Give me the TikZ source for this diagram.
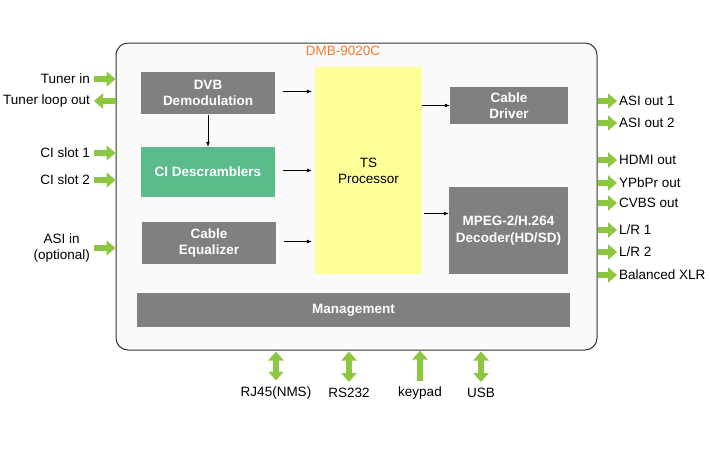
\documentclass[tikz,border=0pt]{standalone}
\usepackage{fontspec}
\setmainfont{Liberation Sans}
\usepackage{xcolor}
\usetikzlibrary{arrows.meta,positioning}
\definecolor{limegreen}{RGB}{141,198,63}
\definecolor{boxgray}{RGB}{128,128,128}
\definecolor{cigreen}{RGB}{92,187,138}
\definecolor{tsyellow}{RGB}{255,255,153}
\definecolor{tagorange}{RGB}{244,124,48}

\begin{document}
\begin{tikzpicture}
  [x=1pt,y=-1pt,every node/.style={font=\fontsize{13.5}{16}\selectfont},
   blk/.style={fill=boxgray,text=white,font=\bfseries\fontsize{13.5}{16.5}\selectfont,align=center,inner sep=0pt},
   lbl/.style={inner sep=2pt,align=center},
   thin/.style={-{Latex[length=5pt,width=4pt]},line width=0.7pt},
   gin/.style={limegreen,line width=6pt,-{Triangle[width=15pt,length=9pt]}},
   gboth/.style={limegreen,line width=6pt,{Triangle[width=15pt,length=9pt]}-{Triangle[width=15pt,length=9pt]}}]
  \useasboundingbox (0,0) rectangle (710,456);

  \node[draw=black!80,line width=1pt,fill=black!2,rounded corners=12pt,
        minimum width=481pt,minimum height=307pt] (box) at (356.5,196.5) {};
  \node[text=tagorange] (tag) at (343,51) {DMB-9020C};

  \node[blk,minimum width=134pt,minimum height=42pt] (dvb) at (208,93) {DVB\\Demodulation};
  \node[blk,fill=cigreen,minimum width=134pt,minimum height=50pt] (ci) at (208,172) {CI Descramblers};
  \node[blk,minimum width=134pt,minimum height=42pt] (eq) at (209,243) {Cable\\Equalizer};
  \node[fill=tsyellow,align=center,inner sep=0pt,minimum width=107pt,minimum height=207pt] (ts) at (368.5,170.5) {TS\\Processor};
  \node[blk,minimum width=118pt,minimum height=37pt] (drv) at (509,105.5) {Cable\\Driver};
  \node[blk,minimum width=119pt,minimum height=87pt] (dec) at (508.5,230.5) {MPEG-2/H.264\\Decoder(HD/SD)};
  \node[blk,minimum width=433pt,minimum height=34pt] (mgmt) at (353.5,310) {Management};

  % inner arrows
  \draw[thin,shorten <=1pt] (dvb.south) -- (dvb.south |- ci.north);
  \foreach \from in {dvb,ci,eq}
    \draw[thin,shorten <=8pt,shorten >=3pt] ([yshift=1.5pt]\from.east) -- ([yshift=1.5pt]\from.east -| ts.west);
  \draw[thin] (ts.east |- drv.west) -- (drv.west);
  \draw[thin,shorten <=2pt] ([yshift=17pt]ts.east |- dec.west) -- ([yshift=17pt]dec.west);

  % left side
  \node[lbl,anchor=east] (tin) at (92,79) {Tuner in};
  \node[lbl,anchor=east] (tout) at (92,101) {Tuner loop out};
  \node[lbl,anchor=east] (ci1) at (92,153) {CI slot 1};
  \node[lbl,anchor=east] (ci2) at (92,180) {CI slot 2};
  \node[lbl,anchor=east] (asi) at (92,248) {ASI in\\(optional)};
  \foreach \a in {tin,ci1,ci2,asi}
    \draw[gin,shorten <=2pt] (\a.east) -- (\a.east -| box.west);
  \draw[gin,shorten >=2pt] (tout.east -| box.west) -- (tout.east);

  % right side
  \foreach \a/\t/\y in {ao1/ASI out 1/101,ao2/ASI out 2/123,hdmi/HDMI out/160,ypbpr/YPbPr out/183,
                        cvbs/CVBS out/203,lr1/{L/R 1}/230,lr2/{L/R 2}/252,xlr/Balanced XLR/275}
  {
    \node[lbl,anchor=west] (\a) at (617,\y) {\t};
    \draw[gin] (box.east |- \a.west) -- (\a.west);
  }

  % bottom
  \node[lbl] (rj) at (276,393) {RJ45(NMS)};
  \node[lbl] (rs) at (349,393) {RS232};
  \node[lbl] (kp) at (420,393) {keypad};
  \node[lbl] (usb) at (481,393) {USB};
  \foreach \a in {rj,rs,usb}
    \draw[gboth,shorten >=1pt,shorten <=4pt] (\a.north) -- (\a.north |- box.south);
  \draw[gin,shorten <=4pt] (kp.north) -- (kp.north |- box.south);
\end{tikzpicture}
\end{document}
